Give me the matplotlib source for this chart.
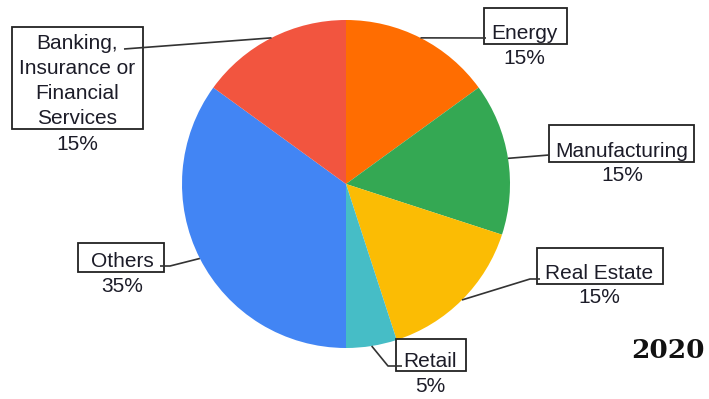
import matplotlib
matplotlib.use("Agg")
import matplotlib.pyplot as plt
from matplotlib.patches import Rectangle
import numpy as np

# sector shares in percent, clockwise from 12 o'clock
sectors = ["Energy", "Manufacturing", "Real Estate", "Retail", "Others",
           "Banking,\nInsurance or\nFinancial\nServices"]
shares = [15, 15, 15, 5, 35, 15]
colors = ["#FF6D01", "#34A853", "#FBBC04", "#46BDC6", "#4285F4", "#F2553F"]
year = "2020"

W, H = 709, 399


def py(y):
    # pixel rows are counted from the top, axes go up
    return H - y


# label layout in pixels: box (x0, y0, x1, y1), text x, name baseline, pct baseline, leader bend points
layout = [
    dict(box=(484, 8, 567, 44), tx=524, name_y=39, pct_y=64, bend=[(486, 38)]),
    dict(box=(549, 125, 694, 162), tx=622, name_y=157, pct_y=181, bend=[(549, 155)]),
    dict(box=(537, 248, 663, 284), tx=599, name_y=279, pct_y=303, bend=[(530, 279), (540, 279)]),
    dict(box=(396, 339, 466, 371), tx=430, name_y=367, pct_y=392, bend=[(388, 366), (402, 366)]),
    dict(box=(78, 243, 164, 272), tx=122, name_y=267, pct_y=292, bend=[(170, 266), (160, 266)]),
    dict(box=(12, 27, 143, 129), tx=77, name_y=49, pct_y=150, bend=[(124, 49)]),
]

plt.rcParams['font.family'] = ['Liberation Sans', 'DejaVu Sans']

fig = plt.figure(figsize=(W / 100, H / 100), dpi=100)
ax = fig.add_axes([0, 0, 1, 1])

cx, cy, r = 346, py(184), 164
wedges, _ = ax.pie(shares, colors=colors, startangle=90, counterclock=False,
                   center=(cx, cy), radius=r, wedgeprops=dict(linewidth=0))

ax.set_xlim(0, W)
ax.set_ylim(0, H)
ax.set_aspect('equal')
ax.axis('off')

txt_col = "#1c1c28"
for w, name, v, lay in zip(wedges, sectors, shares, layout):
    mid = np.deg2rad((w.theta1 + w.theta2) / 2)
    ax_ = cx + r * np.cos(mid)
    ay_ = cy + r * np.sin(mid)
    xs = [ax_] + [p[0] for p in lay["bend"]]
    ys = [ay_] + [py(p[1]) for p in lay["bend"]]
    ax.plot(xs, ys, color="#333333", lw=1.2, solid_capstyle='butt')

    x0, y0, x1, y1 = lay["box"]
    ax.add_patch(Rectangle((x0, py(y1)), x1 - x0, y1 - y0, fill=False,
                           edgecolor="#222222", lw=1.3))
    lines = name.split("\n")
    for i, line in enumerate(lines):
        ax.text(lay["tx"], py(lay["name_y"] + 25 * i), line,
                ha='center', va='baseline', fontsize=15, color=txt_col)
    ax.text(lay["tx"], py(lay["pct_y"]), f"{v}%", ha='center', va='baseline',
            fontsize=15, color=txt_col)

ax.text(668, py(351), year, ha='center', va='center', fontsize=19,
        fontweight='bold', family='DejaVu Serif', color="#111111")

fig.savefig("out.png", dpi=100)
